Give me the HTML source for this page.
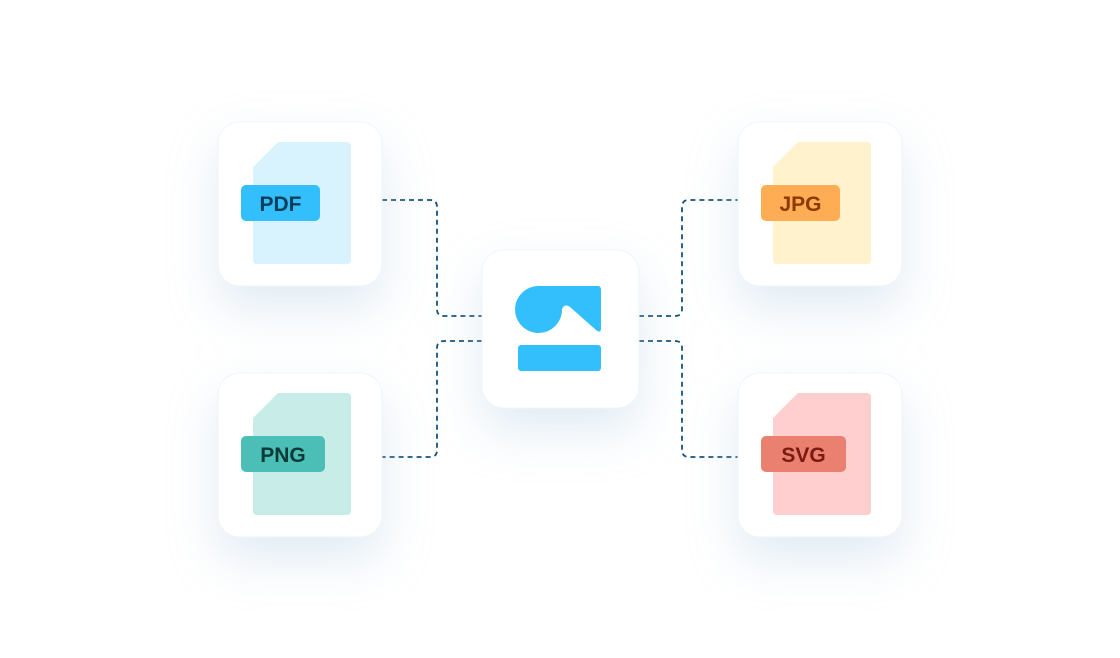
<!DOCTYPE html>
<html><head><meta charset="utf-8"><style>
html,body{margin:0;padding:0;background:#fff;width:1120px;height:658px;overflow:hidden}
svg{display:block}
text{font-family:"Liberation Sans",sans-serif;font-weight:bold;font-size:21px}
</style></head><body>
<svg width="1120" height="658" viewBox="0 0 1120 658">
<defs>
<filter id="sh" x="-80%" y="-80%" width="260%" height="260%">
<feDropShadow dx="0" dy="22" stdDeviation="24" flood-color="#a8c8e0" flood-opacity="0.35"/>
</filter>
</defs>
<g fill="none" stroke="#174f7a" stroke-width="1.8" stroke-dasharray="5,4">
<path d="M382,200 H430 Q437,200 437,207 V309 Q437,316 444,316 H482"/>
<path d="M482,341 H444 Q437,341 437,348 V450 Q437,457 430,457 H382"/>
<path d="M639,316 H675 Q682,316 682,309 V207 Q682,200 689,200 H738"/>
<path d="M639,341 H675 Q682,341 682,348 V450 Q682,457 689,457 H738"/>
</g>
<g fill="#fff" stroke="#eef6fb" stroke-width="1" filter="url(#sh)">
<rect x="218" y="122" width="164" height="164" rx="22"/>
<rect x="218" y="373" width="164" height="164" rx="22"/>
<rect x="738" y="122" width="164" height="164" rx="22"/>
<rect x="738" y="373" width="164" height="164" rx="22"/>
<rect x="482" y="250" width="157" height="158" rx="22"/>
</g>
<path d="M278,142 H347 Q351,142 351,146 V260 Q351,264 347,264 H257 Q253,264 253,260 V167 Z" fill="#d9f3fe"/>
<path d="M278,393 H347 Q351,393 351,397 V511 Q351,515 347,515 H257 Q253,515 253,511 V418 Z" fill="#c8ece8"/>
<path d="M798,142 H867 Q871,142 871,146 V260 Q871,264 867,264 H777 Q773,264 773,260 V167 Z" fill="#fff2cc"/>
<path d="M798,393 H867 Q871,393 871,397 V511 Q871,515 867,515 H777 Q773,515 773,511 V418 Z" fill="#ffcfd0"/>
<rect x="241" y="185" width="79" height="36" rx="5" fill="#33bffc"/>
<rect x="241" y="436" width="84" height="36" rx="5" fill="#4bbfb5"/>
<rect x="761" y="185" width="79" height="36" rx="5" fill="#ffad55"/>
<rect x="761" y="436" width="85" height="36" rx="5" fill="#e98070"/>
<text x="280.5" y="211" text-anchor="middle" fill="#0a3d5c">PDF</text>
<text x="283" y="462" text-anchor="middle" fill="#0b3b38">PNG</text>
<text x="800.5" y="211" text-anchor="middle" fill="#8a3c00">JPG</text>
<text x="803.5" y="462" text-anchor="middle" fill="#7a1a10">SVG</text>
<path d="M539,286 H598 Q601,286 601,290 V328 Q601,334 596,330 L570,307 Q565,303 562,309 L562,311 A23.5,23.5 0 1 1 539,286 Z" fill="#33bffc"/>
<rect x="518" y="345" width="83" height="26" rx="3" fill="#33bffc"/>
</svg>
</body></html>
